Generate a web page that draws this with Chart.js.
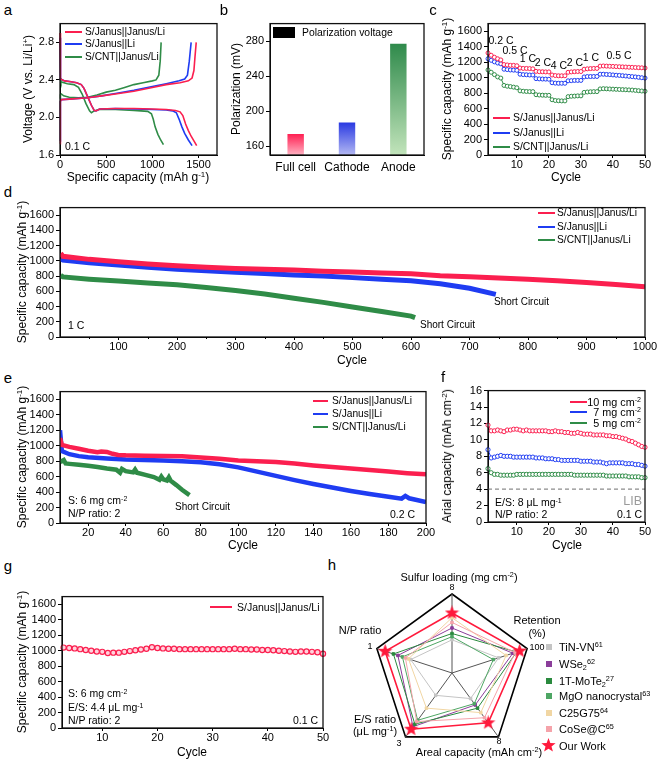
<!DOCTYPE html>
<html><head><meta charset="utf-8">
<script src="https://cdn.jsdelivr.net/npm/chart.js@4.4.1/dist/chart.umd.min.js"></script>
<style>
html,body{margin:0;padding:0;background:#fff;}
body{position:relative;width:660px;height:761px;overflow:hidden;font-family:'Liberation Sans',Arial,sans-serif;}
canvas{position:absolute;}
.t{position:absolute;white-space:nowrap;line-height:1;color:#000;}
.t sup{font-size:0.66em;position:relative;top:-0.5em;vertical-align:baseline;line-height:0;}
.t sub{font-size:0.66em;position:relative;top:0.25em;vertical-align:baseline;line-height:0;}
.sw{position:absolute;}
</style></head><body>
<script>
// ---------------- DATA ----------------
const seriesNames = ['S/Janus||Janus/Li', 'S/Janus||Li', 'S/CNT||Janus/Li'];

// (a) voltage profiles at 0.1 C : [capacity mAh/g, voltage V]
const aRedDischarge = [[0,2.9],[3,2.5],[8,2.41],[50,2.39],[120,2.38],[180,2.37],[230,2.35],[260,2.31],[300,2.22],[340,2.13],[370,2.075],[390,2.07],[430,2.09],[600,2.095],[800,2.095],[1000,2.09],[1150,2.085],[1250,2.075],[1300,2.06],[1330,2.02],[1360,1.93],[1390,1.86],[1420,1.8],[1450,1.75],[1480,1.7]];
const aRedCharge = [[0,1.72],[3,2.0],[6,2.17],[15,2.19],[100,2.195],[300,2.21],[450,2.23],[600,2.25],[800,2.28],[1000,2.32],[1150,2.35],[1300,2.37],[1390,2.39],[1430,2.42],[1450,2.5],[1462,2.65],[1475,2.8]];
const aBlueDischarge = [[0,2.85],[3,2.5],[8,2.41],[50,2.39],[120,2.38],[180,2.37],[230,2.35],[260,2.31],[300,2.22],[340,2.13],[370,2.075],[390,2.07],[430,2.09],[600,2.095],[800,2.09],[1000,2.085],[1150,2.08],[1220,2.07],[1260,2.05],[1290,1.98],[1320,1.9],[1350,1.83],[1390,1.76],[1430,1.7]];
const aBlueCharge = [[0,1.75],[3,2.05],[6,2.17],[15,2.19],[100,2.195],[300,2.21],[450,2.23],[600,2.255],[800,2.29],[1000,2.33],[1150,2.36],[1290,2.39],[1350,2.41],[1380,2.45],[1400,2.6],[1420,2.8]];
const aGreenDischarge = [[0,2.42],[10,2.38],[80,2.36],[150,2.35],[200,2.32],[240,2.25],[280,2.15],[320,2.07],[340,2.05],[370,2.07],[420,2.085],[600,2.085],[800,2.075],[950,2.065],[990,2.04],[1010,1.98],[1030,1.9],[1060,1.82],[1090,1.76],[1120,1.71]];
const aGreenCharge = [[0,2.2],[5,2.24],[15,2.25],[40,2.23],[100,2.215],[200,2.21],[300,2.215],[400,2.24],[500,2.27],[600,2.29],[700,2.32],[800,2.35],[900,2.37],[1000,2.39],[1040,2.4],[1070,2.45],[1085,2.6],[1095,2.8]];
const aXTicks = [0, 500, 1000, 1500];
const aYTicks = [1.6, 2.0, 2.4, 2.8];

// (b) polarization
const bCategories = ['Full cell', 'Cathode', 'Anode'];
const bPolarization = [174, 187, 277];
const bYTicks = [160, 200, 240, 280];

// (c) rate performance, cycles 1-50
const cRates = ['0.2 C','0.5 C','1 C','2 C','4 C','2 C','1 C','0.5 C'];
const cRed = [1320,1290,1265,1245,1230, 1170,1165,1160,1160,1155, 1125,1120,1120,1118,1115, 1082,1078,1077,1075,1075, 1035,1028,1025,1025,1025, 1070,1075,1078,1080,1080, 1110,1115,1118,1120,1120, 1150,1152,1150,1148,1146,1144,1142,1140,1138,1136,1134,1132,1130,1128,1125];
const cBlue = [1245,1225,1205,1190,1180, 1110,1105,1100,1098,1095, 1045,1040,1038,1035,1035, 988,985,983,982,980, 935,930,928,928,928, 960,962,965,965,965, 1010,1015,1015,1016,1016, 1045,1045,1042,1040,1036,1032,1030,1026,1022,1018,1014,1010,1005,1000,995];
const cGreen = [1100,1070,1040,1010,995, 900,890,885,878,870, 830,825,822,820,820, 780,776,774,772,772, 715,705,702,700,700, 755,760,762,765,765, 810,815,818,820,820, 855,858,856,854,852,850,848,846,844,842,840,836,832,828,825];
const capTicks = [0,200,400,600,800,1000,1200,1400,1600];
const cXTicks = [10,20,30,40,50];

// (d) long cycling at 1 C
const dRedCycles = [1,5,50,100,150,200,250,300,350,400,450,500,550,600,650,700,750,800,850,900,950,1000];
const dRedCap    = [1100,1060,1020,990,960,935,915,900,890,880,865,855,840,830,805,790,775,760,740,715,690,660];
const dBlueCycles = [1,5,50,100,150,200,250,300,350,400,450,500,550,600,650,700,745];
const dBlueCap    = [1030,1010,975,945,915,890,870,850,835,815,800,780,760,740,700,640,560];
const dGreenCycles = [1,5,50,100,150,200,250,300,350,400,450,500,550,600,607];
const dGreenCap    = [810,790,760,735,710,685,650,610,565,510,455,395,335,275,255];
const dXTicks = [100,200,300,400,500,600,700,800,900,1000];
const dMinor = [50,150,250,350,450,550,650,750,850,950];

// (e) high loading at 0.2 C
const eRedCycles = [5,6,10,15,20,25,27,30,33,36,40,50,60,70,80,90,100,110,120,130,140,150,160,170,180,190,200];
const eRedCap    = [1100,1010,985,960,935,915,925,920,895,880,875,870,868,862,848,830,810,800,790,770,745,725,705,685,665,645,630];
const eBlueCycles = [5,6,10,15,20,30,40,50,60,70,80,90,100,110,120,130,140,150,160,170,180,187,189,191,200];
const eBlueCap    = [1200,930,890,865,850,835,820,815,810,800,785,760,720,665,610,555,505,460,415,375,340,315,350,320,270];
const eGreenCycles = [5,7,8,10,15,20,25,30,35,37,38,40,44,45,46,50,55,58,59,60,62,63,64,67,70,74];
const eGreenCap    = [790,815,770,765,755,740,725,705,690,650,700,670,655,690,650,625,595,560,600,565,550,590,545,490,430,360];
const eXTicks = [20,40,60,80,100,120,140,160,180,200];

// (f) areal capacity
const fLabels = ['10 mg cm-2','7 mg cm-2','5 mg cm-2'];
const fRed = [11.8,11.1,11.1,11.2,11.1,11.0,11.2,11.2,11.3,11.3, 11.2,11.1,11.2,11.1,11.1,11.1,11.1,11.1,11.1,11.0, 11.0,11.1,11.0,11.0,10.9,10.9,10.8,10.8,10.9,10.8, 10.7,10.7,10.7,10.6,10.6,10.6,10.6,10.5,10.5,10.4, 10.4,10.3,10.2,10.1,9.9,9.8,9.6,9.4,9.2,9.1];
const fBlue = [8.8,7.8,7.9,8.0,8.1,8.0,8.0,8.0,7.9,7.9, 7.9,7.9,7.9,7.9,7.9,7.8,7.8,7.8,7.7,7.7, 7.7,7.6,7.6,7.5,7.5,7.5,7.5,7.5,7.5,7.4, 7.4,7.4,7.4,7.3,7.3,7.3,7.2,7.1,7.2,7.2, 7.2,7.2,7.2,7.1,7.1,7.1,7.0,7.0,6.9,6.8];
const fGreen = [6.5,6.0,5.8,5.8,5.7,5.7,5.7,5.7,5.7,5.8, 5.8,5.8,5.8,5.8,5.8,5.8,5.8,5.8,5.8,5.8, 5.8,5.8,5.8,5.8,5.8,5.8,5.8,5.7,5.7,5.7, 5.7,5.7,5.7,5.7,5.7,5.7,5.7,5.6,5.6,5.6, 5.6,5.6,5.6,5.6,5.5,5.5,5.5,5.5,5.4,5.4];
const fLIB = 4;
const fYTicks = [0,2,4,6,8,10,12,14,16];

// (g) lean electrolyte, cycles 3-50
const gCap = [1040,1035,1030,1020,1010,1000,990,985,970,975, 975,985,995,1005,1015,1025,1045,1035,1030,1025, 1025,1020,1020,1020,1020,1020,1020,1020,1020,1020, 1020,1025,1020,1020,1015,1015,1010,1010,1005,1000, 995,990,985,990,990,985,980,960];

// (h) radar, scores as fraction of the outer pentagon
const hAxes = ['Sulfur loading','Retention','Areal capacity','E/S ratio','N/P ratio'];
const hTiNVN   = [0.42,0.62,0.40,0.35,0.55];
const hWSe2    = [0.57,0.81,0.50,0.84,0.72];
const hMoTe2   = [0.50,0.86,0.55,0.80,0.78];
const hMgO     = [0.46,0.55,0.48,0.74,0.66];
const hC25G75  = [0.70,0.72,0.62,0.55,0.58];
const hCoSe    = [0.64,0.84,0.70,0.76,0.62];
const hOurWork = [0.76,0.90,0.78,0.88,0.89];

// ---------------- STYLE ----------------
const RED = '#fb1f4f', BLUE = '#1f3cf2', GREEN = '#2f8c47';
Chart.defaults.font.family = "'Liberation Sans', Arial, sans-serif";
Chart.defaults.font.size = 11;
Chart.defaults.color = '#000';
Chart.defaults.animation = false;
Chart.defaults.responsive = false;
Chart.defaults.devicePixelRatio = 1;
Chart.defaults.plugins.legend.display = false;
Chart.defaults.plugins.tooltip.enabled = false;

Chart.register({
  id: 'frame',
  afterDatasetsDraw(chart, args, opts) {
    if (!opts || !opts.on) return;
    const {ctx, chartArea: a} = chart;
    ctx.save(); ctx.strokeStyle = '#111'; ctx.lineWidth = 1.3;
    ctx.strokeRect(a.left, a.top, a.right - a.left, a.bottom - a.top);
    ctx.restore();
  }
}, {
  id: 'minor',
  afterDraw(chart, args, opts) {
    if (!opts || !opts.values) return;
    const s = chart.scales.x, ctx = chart.ctx, b = chart.chartArea.bottom;
    ctx.save(); ctx.strokeStyle = '#000'; ctx.lineWidth = 1;
    opts.values.forEach(v => { const p = Math.round(s.getPixelForValue(v)) + 0.5; ctx.beginPath(); ctx.moveTo(p, b); ctx.lineTo(p, b + 2); ctx.stroke(); });
    ctx.restore();
  }
});

const xy = arr => arr.map(([x, y]) => ({x, y}));
const ser = (xs, ys) => xs.map((x, i) => ({x, y: ys[i]}));
const range = (a, n) => Array.from({length: n}, (_, i) => a + i);

function cart(box, cfg) {
  const [l, t, r, b] = box;
  const L = 40, T = 8, R = 16, B = 22;
  const cv = document.createElement('canvas');
  cv.width = r - l + L + R; cv.height = b - t + T + B;
  cv.style.left = (l - L) + 'px'; cv.style.top = (t - T) + 'px';
  document.body.appendChild(cv);
  const x = {
    type: cfg.xType || 'linear',
    border: {display: true, color: '#000', width: 1},
    grid: {display: true, drawOnChartArea: false, drawTicks: !cfg.xNoTicks, tickLength: 3, color: '#000'},
    ticks: {padding: cfg.xPad || 0, maxRotation: 0, autoSkip: false, font: {size: cfg.xFont || 11}},
    afterFit: s => { s.height = B; }
  };
  if (cfg.xMin !== undefined) x.min = cfg.xMin;
  if (cfg.xMax !== undefined) x.max = cfg.xMax;
  if (cfg.xTicks) {
    x.afterBuildTicks = s => { s.ticks = cfg.xTicks.map(v => ({value: v})); };
    x.ticks.callback = v => String(v);
  }
  const y = {
    type: 'linear', min: cfg.yMin, max: cfg.yMax,
    border: {display: true, color: '#000', width: 1},
    grid: {display: true, drawOnChartArea: false, drawTicks: true, tickLength: 4, color: '#000'},
    ticks: {padding: 2, autoSkip: false, callback: cfg.yFmt || (v => String(v))},
    afterFit: s => { s.width = L; },
    afterBuildTicks: s => { s.ticks = cfg.yTicks.map(v => ({value: v})); }
  };
  return new Chart(cv, {
    type: cfg.type || 'line', data: cfg.data,
    options: {layout: {padding: {top: T, right: R, left: 0, bottom: 0}}, scales: {x, y},
      plugins: {frame: {on: true}, minor: {values: cfg.minor || null}}}
  });
}

// ---------------- (a) ----------------
const prof = (d, c) => ({data: xy(d), borderColor: c, borderWidth: 1.6, pointRadius: 0, fill: false, clip: false});
cart([60, 23, 217, 155], {
  xMin: 0, xMax: 1700, yMin: 1.6, yMax: 3.0, xTicks: aXTicks, yTicks: aYTicks, yFmt: v => v.toFixed(1),
  data: {datasets: [prof(aRedDischarge, RED), prof(aRedCharge, RED), prof(aBlueDischarge, BLUE), prof(aBlueCharge, BLUE), prof(aGreenDischarge, GREEN), prof(aGreenCharge, GREEN)]}
});

// ---------------- (b) ----------------
const bTop = ['#ff1f52', '#2a3ae2', '#2f8a4b'];
const bBottom = ['#ffb2c2', '#b3b8f2', '#c2e4bb'];
cart([270, 23, 424, 155], {
  type: 'bar', xType: 'category', xNoTicks: true, xFont: 12, xPad: 5, yMin: 150, yMax: 300, yTicks: bYTicks,
  data: {labels: bCategories, datasets: [{
    data: bPolarization, borderWidth: 0, barPercentage: 0.32, categoryPercentage: 1,
    backgroundColor: ctx => {
      const ch = ctx.chart, ca = ch.chartArea, i = ctx.dataIndex;
      if (!ca || i === undefined) return bTop[0];
      const yTop = ch.scales.y.getPixelForValue(bPolarization[i]);
      const g = ch.ctx.createLinearGradient(0, yTop, 0, ca.bottom);
      g.addColorStop(0, bTop[i]); g.addColorStop(1, bBottom[i]);
      return g;
    }
  }]}
});

// ---------------- (c) ----------------
const cCycles = range(1, 50);
const ring = (xs, ys, c, r) => ({data: ser(xs, ys), borderColor: c, borderWidth: 1, pointRadius: r, pointBorderWidth: 1, pointBorderColor: c, pointBackgroundColor: '#fff', fill: false, clip: false});
cart([488, 23, 645, 155], {
  xMin: 1, xMax: 50, yMin: 0, yMax: 1700, xTicks: cXTicks, yTicks: capTicks,
  data: {datasets: [ring(cCycles, cRed, RED, 2), ring(cCycles, cBlue, BLUE, 2), ring(cCycles, cGreen, GREEN, 2)]}
});

// ---------------- (d) ----------------
const band = (xs, ys, c, w) => ({data: ser(xs, ys), borderColor: c, borderWidth: w, pointRadius: 0, fill: false});
cart([60, 207, 645, 337], {
  xMin: 0, xMax: 1000, yMin: 0, yMax: 1700, xTicks: dXTicks, yTicks: capTicks, minor: dMinor,
  data: {datasets: [band(dRedCycles, dRedCap, RED, 5), band(dBlueCycles, dBlueCap, BLUE, 5), band(dGreenCycles, dGreenCap, GREEN, 5)]}
});

// ---------------- (e) ----------------
cart([60, 391, 426, 523], {
  xMin: 5, xMax: 200, yMin: 0, yMax: 1700, xTicks: eXTicks, yTicks: capTicks,
  data: {datasets: [band(eRedCycles, eRedCap, RED, 4.5), band(eBlueCycles, eBlueCap, BLUE, 4.5), band(eGreenCycles, eGreenCap, GREEN, 4.5)]}
});

// ---------------- (f) ----------------
const fCycles = range(1, 50);
cart([488, 390, 645, 522], {
  xMin: 1, xMax: 50, yMin: 0, yMax: 16, xTicks: cXTicks, yTicks: fYTicks,
  data: {datasets: [ring(fCycles, fRed, RED, 2.1), ring(fCycles, fBlue, BLUE, 2.1), ring(fCycles, fGreen, GREEN, 2.1),
    {data: [{x: 1, y: fLIB}, {x: 50, y: fLIB}], borderColor: '#8c8c8c', borderWidth: 1.3, borderDash: [4, 3], pointRadius: 0}]}
});

// ---------------- (g) ----------------
const gCycles = range(3, 48);
cart([62, 596, 323, 728], {
  xMin: 2.7, xMax: 50, yMin: 0, yMax: 1700, xTicks: cXTicks, yTicks: capTicks,
  data: {datasets: [{data: ser(gCycles, gCap), borderColor: RED, borderWidth: 1, pointRadius: 2.6, pointBorderWidth: 1.2, pointBorderColor: RED, pointBackgroundColor: '#ffd2dc', clip: false}]}
});

// ---------------- (h) radar ----------------
function starCanvas(size, color) {
  const c = document.createElement('canvas'); c.width = c.height = size;
  const x = c.getContext('2d'); x.fillStyle = color; x.beginPath();
  const R = size / 2, r = R * 0.42;
  for (let i = 0; i < 10; i++) { const a = -Math.PI / 2 + i * Math.PI / 5, rr = i % 2 ? r : R; x.lineTo(R + rr * Math.cos(a), R + rr * Math.sin(a)); }
  x.closePath(); x.fill(); return c;
}
const rc = document.createElement('canvas'); rc.width = 178; rc.height = 178;
rc.style.left = '363px'; rc.style.top = '584px'; document.body.appendChild(rc);
const rds = (d, c, w) => ({data: d, borderColor: c, borderWidth: w || 1, pointRadius: 1.8, pointStyle: 'rect', pointBackgroundColor: c, pointBorderColor: c, fill: false});
const ours = rds(hOurWork, '#ff1a3c', 1.6); ours.pointStyle = starCanvas(15, '#ff1a3c'); ours.pointRadius = 7;
new Chart(rc, {
  type: 'radar',
  data: {labels: hAxes, datasets: [ours, rds(hCoSe, '#f5a3aa'), rds(hC25G75, '#f1d6a3'), rds(hMgO, '#4ea664'), rds(hMoTe2, '#2a8a3e'), rds(hWSe2, '#8b3d9a'), rds(hTiNVN, '#c4c4c4')]},
  options: {layout: {padding: 10}, plugins: {frame: {on: false}},
    scales: {r: {min: 0, max: 1, ticks: {display: false, stepSize: 1}, grid: {color: '#000', lineWidth: 1.6},
      angleLines: {color: '#555', lineWidth: 1}, pointLabels: {display: false}}}}
});

// ---------------- TEXT ----------------
function txt(html, x, y, o = {}) {
  const d = document.createElement('div'); d.className = 't'; d.innerHTML = html;
  const tx = o.align === 'left' ? '0' : o.align === 'right' ? '-100%' : '-50%';
  d.style.left = x + 'px'; d.style.top = y + 'px'; d.style.fontSize = (o.size || 11) + 'px';
  if (o.color) d.style.color = o.color;
  d.style.transform = `translate(${tx},-50%)` + (o.rot ? ' rotate(-90deg)' : '');
  document.body.appendChild(d);
}
function sw(x, y, w, h, c) {
  const d = document.createElement('div'); d.className = 'sw';
  d.style.cssText = `left:${x}px;top:${y}px;width:${w}px;height:${h}px;background:${c};`;
  document.body.appendChild(d);
}
const COLS = [RED, BLUE, GREEN];
function legend(x1, x2, ys, tx, size, th) {
  ys.forEach((y, i) => { sw(x1, y - th / 2, x2 - x1, th, COLS[i]); txt(seriesNames[i], tx, y, {align: 'left', size}); });
}
const capTitle = 'Specific capacity (mAh g<sup>-1</sup>)';

// panel letters
[['a', 8, 9], ['b', 224, 9], ['c', 433, 9], ['d', 8, 191], ['e', 8, 377], ['f', 443, 376], ['g', 8, 565], ['h', 332, 564]]
  .forEach(([s, x, y]) => txt(s, x, y, {size: 15}));

// a
txt('Specific capacity (mAh g<sup>-1</sup>)', 138, 177, {size: 12});
txt('Voltage (V vs. Li/Li<sup>+</sup>)', 28, 89, {size: 12, rot: true});
legend(65, 82, [32, 44, 57], 85, 10.2, 2);
txt('0.1 C', 65, 146, {align: 'left', size: 10.5});

// b
txt('Polarization (mV)', 236, 89, {size: 12, rot: true});
sw(273, 27, 22, 11, '#000');
txt('Polarization voltage', 302, 33, {align: 'left', size: 10.4});

// c
txt(capTitle, 447, 89, {size: 12, rot: true});
txt('Cycle', 566, 177, {size: 12});
legend(493, 510, [118, 133, 147], 513, 10.4, 2.5);
const cRatePos = [[501, 40], [515, 50], [528, 58], [543, 62], [559, 65], [575, 62], [591, 57], [619, 55]];
cRates.forEach((r, i) => txt(r, cRatePos[i][0], cRatePos[i][1], {size: 10.5}));

// d
txt(capTitle, 22, 272, {size: 12, rot: true});
txt('Cycle', 352, 360, {size: 12});
legend(538, 555, [213, 227, 240], 557, 10.2, 2.5);
txt('1 C', 68, 325, {align: 'left', size: 10.5});
txt('Short Circuit', 494, 302, {align: 'left', size: 10});
txt('Short Circuit', 420, 325, {align: 'left', size: 10});

// e
txt(capTitle, 22, 457, {size: 12, rot: true});
txt('Cycle', 243, 545, {size: 12});
legend(313, 328, [401, 414, 427], 332, 10.2, 2.5);
txt('S: 6 mg cm<sup>-2</sup>', 68, 500, {align: 'left', size: 10.5});
txt('N/P ratio: 2', 68, 513, {align: 'left', size: 10.5});
txt('Short Circuit', 175, 507, {align: 'left', size: 10});
txt('0.2 C', 390, 514, {align: 'left', size: 10.5});

// f
txt('Arial capacity (mAh cm<sup>-2</sup>)', 447, 456, {size: 12, rot: true});
txt('Cycle', 567, 545, {size: 12});
[402, 412, 423].forEach((y, i) => { sw(570, y - 1.25, 17, 2.5, COLS[i]); txt(fLabels[i].replace('-2', '<sup>-2</sup>'), 641, y, {align: 'right', size: 10.8}); });
txt('E/S: 8 μL mg<sup>-1</sup>', 495, 502, {align: 'left', size: 10.5});
txt('N/P ratio: 2', 495, 514, {align: 'left', size: 10.5});
txt('LIB', 642, 501, {align: 'right', size: 12.5, color: '#9a9a9a'});
txt('0.1 C', 642, 514, {align: 'right', size: 10.5});

// g
txt(capTitle, 22, 662, {size: 12, rot: true});
txt('Cycle', 192, 752, {size: 12});
sw(210, 606, 22, 2, RED);
txt(seriesNames[0], 237, 607, {align: 'left', size: 10.5});
txt('S: 6 mg cm<sup>-2</sup>', 68, 693, {align: 'left', size: 10.5});
txt('E/S: 4.4 μL mg<sup>-1</sup>', 68, 707, {align: 'left', size: 10.5});
txt('N/P ratio: 2', 68, 720, {align: 'left', size: 10.5});
txt('0.1 C', 318, 720, {align: 'right', size: 10.5});

// h
txt('Sulfur loading (mg cm<sup>-2</sup>)', 459, 577, {size: 11});
txt('8', 452, 587, {size: 9});
txt('Retention', 537, 620, {size: 11});
txt('(%)', 537, 633, {size: 11});
txt('100', 537, 647, {size: 9});
txt('N/P ratio', 360, 630, {size: 11});
txt('1', 370, 646, {size: 9});
txt('E/S ratio', 375, 719, {size: 11});
txt('(μL mg<sup>-1</sup>)', 375, 731, {size: 11});
txt('3', 399, 743, {size: 9});
txt('Areal capacity (mAh cm<sup>-2</sup>)', 479, 752, {size: 11});
txt('8', 499, 741, {size: 9});
const hLegend = [['TiN-VN<sup>61</sup>', '#c4c4c4', 647], ['WSe<sub>2</sub><sup>62</sup>', '#8b3d9a', 664], ['1T-MoTe<sub>2</sub><sup>27</sup>', '#2a8a3e', 681],
  ['MgO nanocrystal<sup>63</sup>', '#4ea664', 696], ['C25G75<sup>64</sup>', '#f1d6a3', 713], ['CoSe@C<sup>65</sup>', '#f5a3aa', 729]];
hLegend.forEach(([s, c, y]) => { sw(546, y - 3, 6, 6, c); txt(s, 559, y, {align: 'left', size: 11}); });
const st = starCanvas(15, '#ff1a3c'); st.style.left = '541px'; st.style.top = '738px'; document.body.appendChild(st);
txt('Our Work', 559, 746, {align: 'left', size: 11});
</script>
</body></html>
